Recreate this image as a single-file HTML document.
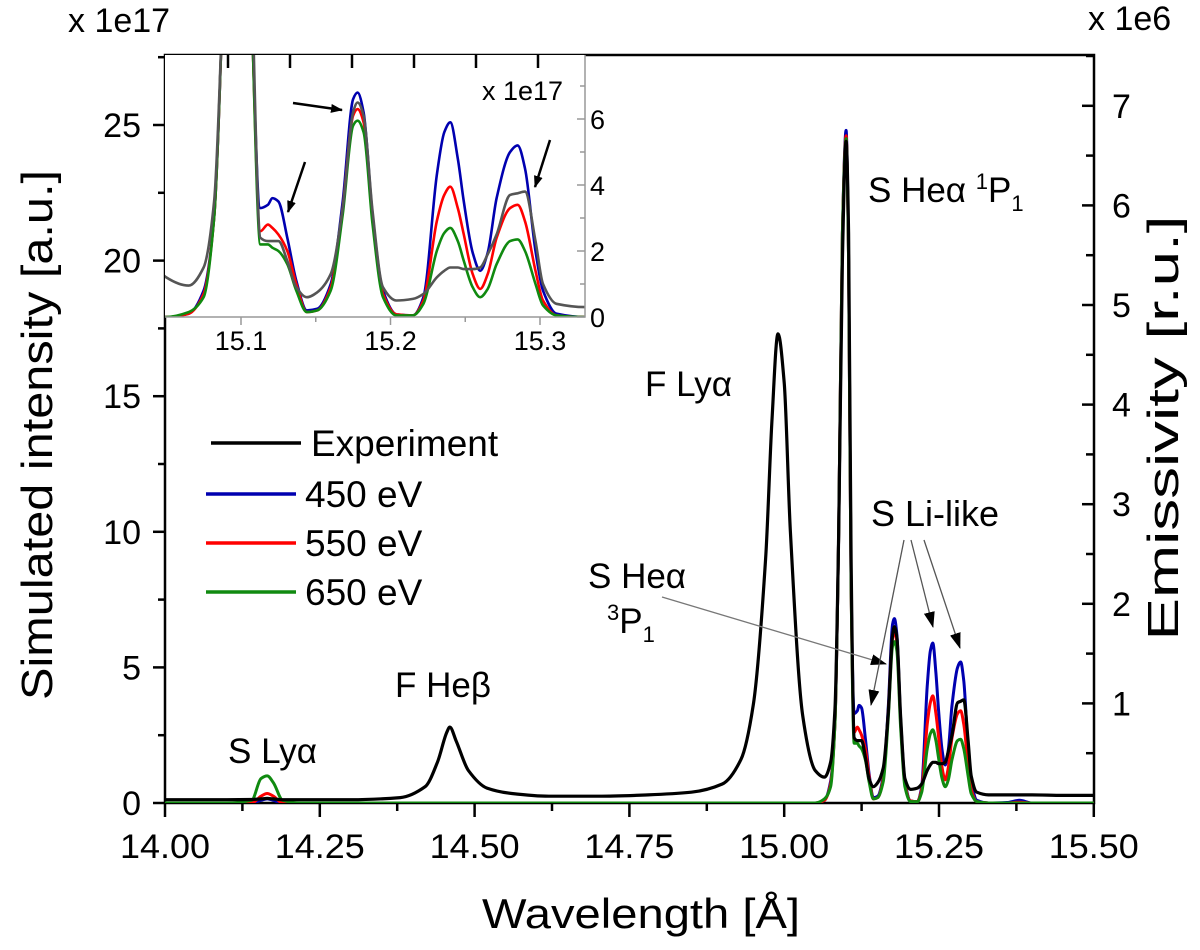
<!DOCTYPE html>
<html><head><meta charset="utf-8"><style>
html,body{margin:0;padding:0;background:#fff;}
svg{display:block;font-family:"Liberation Sans",Arial,sans-serif;}
</style></head><body>
<svg id="chart" width="1200" height="950" viewBox="0 0 1200 950" xmlns="http://www.w3.org/2000/svg">
<defs>
<clipPath id="clipMain"><rect x="165" y="55" width="929" height="748"/></clipPath>
<clipPath id="clipInset"><rect x="165" y="55" width="420" height="262"/></clipPath>
<marker id="arrBlack" markerWidth="12" markerHeight="9" refX="11" refY="4.5" orient="auto" markerUnits="userSpaceOnUse"><path d="M0,0 L12,4.5 L0,9 Z" fill="#000"/></marker>
<marker id="arrGray" markerWidth="16" markerHeight="11" refX="15" refY="5.5" orient="auto" markerUnits="userSpaceOnUse"><path d="M0,0 L16,5.5 L0,11 Z" fill="#000"/></marker>
</defs>
<g id="main"></g>
<g id="inset"></g>
<g id="annot"></g>
</svg>
<script>
const wavelengths=[14.00,14.05,14.10,14.14,14.155,14.165,14.175,14.19,14.22,14.30,14.38,14.42,14.44,14.455,14.46,14.47,14.49,14.52,14.56,14.62,14.70,14.78,14.85,14.90,14.93,14.95,14.97,14.98,14.99,15.00,15.01,15.03,15.05,15.065,15.075,15.082,15.088,15.094,15.100,15.104,15.108,15.113,15.118,15.121,15.125,15.131,15.137,15.144,15.151,15.160,15.168,15.175,15.178,15.182,15.188,15.195,15.204,15.215,15.222,15.231,15.236,15.240,15.245,15.249,15.255,15.260,15.265,15.271,15.280,15.285,15.290,15.297,15.302,15.311,15.330,15.36,15.38,15.40,15.45,15.50];
const experiment=[0.12,0.12,0.12,0.13,0.15,0.17,0.15,0.12,0.12,0.12,0.2,0.6,1.5,2.6,2.8,2.3,1.2,0.55,0.35,0.25,0.25,0.3,0.4,0.7,1.6,3.6,9,14,17.3,15.5,10,3.2,1.2,0.95,1.5,3.5,10,20,24.4,21,9,2.4,2.3,2.3,2.3,1.7,0.9,0.6,0.75,1.3,3.3,6.2,6.5,6.1,3.2,0.9,0.5,0.55,0.7,1.2,1.4,1.5,1.5,1.45,1.45,1.5,1.9,2.5,3.7,3.75,3.8,2.3,1.0,0.4,0.3,0.3,0.3,0.3,0.28,0.28];
const sim450=[0,0,0,0,0.1,0.15,0.1,0,0,0,0,0,0,0,0,0,0,0,0,0,0,0,0,0,0,0,0,0,0,0,0,0,0,0.1,0.8,3,10,21,24.8,20,8,3.3,3.4,3.6,3.5,2.4,1.1,0.2,0.25,1.0,3.5,6.6,6.8,6.2,3.1,0.8,0.08,0.05,0.6,4.3,5.6,5.9,4.8,3.5,1.95,1.4,1.95,3.6,5.0,5.2,4.5,2.0,0.8,0.1,0,0.02,0.1,0,0,0];
const sim550=[0,0,0,0,0.25,0.35,0.25,0,0,0,0,0,0,0,0,0,0,0,0,0,0,0,0,0,0,0,0,0,0,0,0,0,0,0.1,0.7,3,10,21,24.6,20,8,2.6,2.8,2.7,2.5,2.0,1.0,0.15,0.2,0.9,3.3,6.1,6.3,5.9,3.0,0.7,0.08,0.05,0.5,2.9,3.7,3.95,3.3,2.5,1.3,0.85,1.3,2.4,3.3,3.4,2.9,1.4,0.5,0.05,0,0,0.03,0,0,0];
const sim650=[0,0,0,0.1,0.9,1.0,0.75,0.1,0,0,0,0,0,0,0,0,0,0,0,0,0,0,0,0,0,0,0,0,0,0,0,0,0,0.15,0.6,3,10,21,24.5,20,8,2.2,2.2,2.1,2.0,1.6,0.8,0.15,0.2,0.8,3.1,5.8,5.95,5.6,2.8,0.6,0.05,0.05,0.4,2.0,2.55,2.7,2.3,1.7,0.9,0.6,0.85,1.6,2.3,2.35,2.0,1.0,0.35,0.05,0,0,0,0,0,0];
const xTicks=["14.00","14.25","14.50","14.75","15.00","15.25","15.50"];
const yTicksLeft=["0","5","10","15","20","25"];
const yTicksRight=["1","2","3","4","5","6","7"];
const insetXTicks=["15.1","15.2","15.3"];
const insetYTicks=["0","2","4","6"];

const NS="http://www.w3.org/2000/svg";
function mk(parent,tag,attrs,text){const e=document.createElementNS(NS,tag);for(const k in attrs)e.setAttribute(k,attrs[k]);if(text!==undefined)e.textContent=text;parent.appendChild(e);return e;}
const xm=l=>165+(l-14)*619.2;
const ym=v=>803-v*27.12;
const yr=v=>803-v*99.6;
const xi=l=>241+(l-15.1)*1495;
const yi=v=>317-v*33;

const main=document.getElementById('main');
const inset=document.getElementById('inset');
const annot=document.getElementById('annot');

let fr=mk(main,'rect',{x:165,y:55,width:929,height:748,fill:'none',stroke:'#000','stroke-width':2.5});



for(let i=0;i<=12;i++){const l=14+i*0.125;const x=xm(l);const major=i%2===0;
 let t=mk(main,'line',{x1:x,y1:803,x2:x,y2:major?817:811,stroke:'#000','stroke-width':2.5});
 
 }
xTicks.forEach(s=>{let t=mk(main,'text',{x:xm(parseFloat(s)),y:858,'font-size':34,'text-anchor':'middle',textLength:90,lengthAdjust:'spacingAndGlyphs'},s);
 
 });
for(let i=0;i<=11;i++){const v=i*2.5;const y=ym(v);const major=i%2===0;
 let t=mk(main,'line',{x1:major?153:158,y1:y,x2:165,y2:y,stroke:'#000','stroke-width':2.5});
 
 }
yTicksLeft.forEach(s=>{let t=mk(main,'text',{x:141,y:ym(parseFloat(s))+12,'font-size':34,'text-anchor':'end'},s);
 
 });
for(let i=1;i<=15;i++){const v=i*0.5;const y=yr(v);if(y<56)continue;const major=i%2===0;
 let t=mk(main,'line',{x1:major?1082:1086,y1:y,x2:1094,y2:y,stroke:'#000','stroke-width':2.5});
 
 }
yTicksRight.forEach(s=>{let t=mk(main,'text',{x:1112,y:yr(parseFloat(s))+12,'font-size':34},s);
 
 });

// monotone cubic path
function pathFor(vals,fx,fy){
 const X=wavelengths.map(fx),Y=vals.map(fy),n=X.length;
 const d=[],m=new Array(n);
 for(let i=0;i<n-1;i++)d.push((Y[i+1]-Y[i])/(X[i+1]-X[i]));
 m[0]=d[0];m[n-1]=d[n-2];
 for(let i=1;i<n-1;i++){ if(d[i-1]*d[i]<=0)m[i]=0; else m[i]=2/(1/d[i-1]+1/d[i]); }
 let s='M'+X[0].toFixed(1)+','+Y[0].toFixed(1);
 for(let i=0;i<n-1;i++){const h=X[i+1]-X[i];
  s+=' C'+(X[i]+h/3).toFixed(1)+','+(Y[i]+m[i]*h/3).toFixed(1)+' '+(X[i+1]-h/3).toFixed(1)+','+(Y[i+1]-m[i+1]*h/3).toFixed(1)+' '+X[i+1].toFixed(1)+','+Y[i+1].toFixed(1);}
 return s;}
const gMain=mk(main,'g',{'clip-path':'url(#clipMain)'});
[[sim450,'#0000b0','series-450ev'],[sim550,'#ff0000','series-550ev'],[sim650,'#108a10','series-650ev'],[experiment,'#000','series-experiment']].forEach(([d,c,n])=>{
 let p=mk(gMain,'path',{d:pathFor(d,xm,ym),fill:'none',stroke:c,'stroke-width':n==='series-experiment'?3.2:3,'stroke-linejoin':'round'});
 
 });

let ibg=mk(inset,'rect',{x:165,y:55,width:420,height:262,fill:'#fff'});


const gIn=mk(inset,'g',{'clip-path':'url(#clipInset)'});
[[sim450,'#0000b0','inset-series-450ev'],[sim550,'#ff0000','inset-series-550ev'],[sim650,'#108a10','inset-series-650ev'],[experiment,'#555','inset-series-experiment']].forEach(([d,c,n])=>{
 let p=mk(gIn,'path',{d:pathFor(d,xi,yi),fill:'none',stroke:c,'stroke-width':2.6,'stroke-linejoin':'round'});
 
 });
let ib=mk(inset,'path',{d:'M165,317 L585,317 L585,55',fill:'none',stroke:'#999','stroke-width':1.5});


for(let i=0;i<=5;i++){const l=15.1+i*0.05;const x=xi(l);if(x>584)continue;
 let t=mk(inset,'line',{x1:x,y1:317,x2:x,y2:i%2===0?325:322,stroke:'#999','stroke-width':1.5});
 
 }
for(let k=0;k<6;k++){let t=mk(inset,'line',{x1:228+62*k,y1:55,x2:228+62*k,y2:68,stroke:'#000','stroke-width':2.5});
 
 }
insetXTicks.forEach(s=>{let t=mk(inset,'text',{x:xi(parseFloat(s)),y:350,'font-size':27,'text-anchor':'middle'},s);
 
 });
for(let i=0;i<=7;i++){const y=yi(i);let t=mk(inset,'line',{x1:i%2===0?577:580,y1:y,x2:585,y2:y,stroke:'#999','stroke-width':1.5});
 
 }
insetYTicks.forEach(s=>{let t=mk(inset,'text',{x:590,y:yi(parseFloat(s))+10,'font-size':27},s);
 
 });
let il=mk(inset,'text',{x:482,y:100,'font-size':27},'x 1e17');


[[293,103,342,110],[305,162,288,212],[550,140,535,187]].forEach(a=>{
 let l=mk(inset,'line',{x1:a[0],y1:a[1],x2:a[2],y2:a[3],stroke:'#000','stroke-width':2.5,'marker-end':'url(#arrBlack)'});
 
 });

const leg=[["Experiment","#000",443,211,311],["450 eV","#0000b0",494,206,305],["550 eV","#ff0000",543,206,305],["650 eV","#108a10",592,206,305]];
leg.forEach(([lab,c,y,x0,tx])=>{
 let g=mk(annot,'g',{});
 
 
 mk(g,'line',{x1:x0,y1:y,x2:x0+90,y2:y,stroke:c,'stroke-width':3.5});
 mk(g,'text',{x:tx,y:y+13,'font-size':37},lab);});

function txt(x,y,s,fs,name){let t=mk(annot,'text',{x:x,y:y,'font-size':fs},s);return t;}
txt(228,763,'S Lyα',35,'label-s-lya');
txt(395,697,'F Heβ',35,'label-f-heb');
txt(645,396,'F Lyα',35,'label-f-lya');
let t1=txt(868,202,'S Heα ',35,'label-s-hea-1p1');
mk(t1,'tspan',{'font-size':22,dy:-13},'1');mk(t1,'tspan',{dy:13},'P');mk(t1,'tspan',{'font-size':22,dy:9},'1');
txt(871,526,'S Li-like',36,'label-s-li-like');
txt(588,588,'S Heα',35,'label-s-hea-3p1');
let t2=txt(607,633,'',35,'label-3p1');
mk(t2,'tspan',{'font-size':22,dy:-13},'3');mk(t2,'tspan',{dy:13},'P');mk(t2,'tspan',{'font-size':22,dy:9},'1');
let gl=mk(annot,'line',{x1:662,y1:597,x2:886,y2:664,stroke:'#777','stroke-width':1.3,'marker-end':'url(#arrGray)'});


[[904,540,871,705],[911,540,933,627],[924,540,960,648]].forEach(a=>{
 let l=mk(annot,'line',{x1:a[0],y1:a[1],x2:a[2],y2:a[3],stroke:'#555','stroke-width':1.3,'marker-end':'url(#arrGray)'});
 
 });
txt(68,32,'x 1e17',34,'left-scale-label');
txt(1088,30,'x 1e6',34,'right-scale-label');
let yl=mk(annot,'text',{x:0,y:0,'font-size':44,'text-anchor':'middle',textLength:530,lengthAdjust:'spacingAndGlyphs',transform:'translate(52,435) rotate(-90)'},'Simulated intensity [a.u.]');


let yr2=mk(annot,'text',{x:0,y:0,'font-size':44,'text-anchor':'middle',textLength:425,lengthAdjust:'spacingAndGlyphs',transform:'translate(1178,428) rotate(-90)'},'Emissivity [r.u.]');


let xl=mk(annot,'text',{x:641,y:928,'font-size':42,'text-anchor':'middle',textLength:318,lengthAdjust:'spacingAndGlyphs'},'Wavelength [Å]');


</script>
</body></html>
